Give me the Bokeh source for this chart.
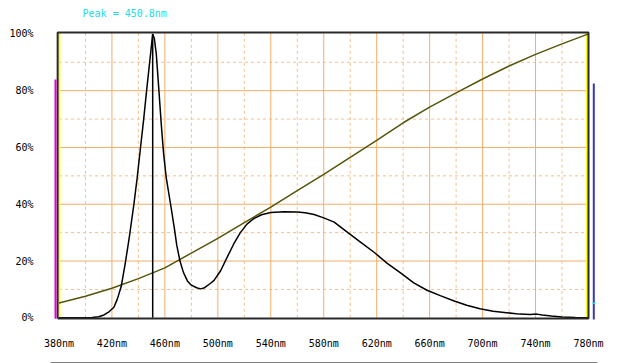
from bokeh.plotting import figure
from bokeh.models import FixedTicker, Range1d, LinearAxis
from bokeh.core.properties import value
from bokeh.embed import file_html
from bokeh.resources import INLINE

# ---- data ----
spec_nm = [380, 395, 405, 410, 414, 418, 421.5, 424, 427, 430,
           433, 436.6, 439, 441.6, 444, 446.2, 448.5, 450, 450.8, 452,
           453.5, 455.5, 457.3, 459, 461, 464.3, 467, 469, 471.4, 474,
           477, 480, 484, 487, 490, 494, 497, 502, 507, 512,
           517, 522, 527, 533, 540, 550, 560, 566, 572.7, 580,
           587.9, 598, 608, 618, 628, 638, 648, 658, 668, 678,
           688, 698, 708, 718, 728, 736, 741, 745, 752, 760,
           770, 780]
spec_pct = [0, 0, 0.1, 0.4, 1.0, 2.2, 3.7, 6.5, 11, 19,
            28, 40, 49, 60, 70, 80, 90, 96.5, 100, 98.5,
            93, 80, 68, 58, 49.5, 40, 32, 25.5, 20, 16,
            13, 11.5, 10.6, 10.2, 10.6, 12, 13.1, 16.5, 21.3, 26,
            30, 33, 34.9, 36.3, 37.1, 37.4, 37.3, 37, 36.4, 35.2,
            33.7, 30.1, 26.6, 23.1, 19.2, 15.8, 12.3, 9.7, 7.8, 6,
            4.4, 3.2, 2.3, 1.8, 1.3, 1.2, 1.3, 1.0, 0.6, 0.3,
            0.1, 0]
curve2_nm = [380, 400, 420, 440, 460, 480, 500, 520, 540, 560, 580,
             600, 620, 640, 660, 680, 700, 720, 740, 760, 780]
curve2_pct = [5.2, 7.6, 10.4, 13.8, 17.6, 22.8, 28, 33.5, 39, 44.8, 50.5,
              56.5, 62.5, 68.7, 74.2, 79.2, 84.1, 88.7, 92.8, 96.5, 100]
peak_nm = 450.8
peak_pct = 100
x_ticks = [380, 420, 460, 500, 540, 580, 620, 660, 700, 740, 780]
x_tick_labels = ["380nm", "420nm", "460nm", "500nm", "540nm", "580nm",
                 "620nm", "660nm", "700nm", "740nm", "780nm"]
y_ticks = [0, 20, 40, 60, 80, 100]
y_tick_labels = ["0%", "20%", "40%", "60%", "80%", "100%"]
grid_major_x = [420, 460, 500, 540, 580, 620, 660, 700, 740]
grid_minor_x = [400, 440, 480, 520, 560, 600, 640, 680, 720, 760]
grid_major_y = [20, 40, 60, 80]
grid_minor_y = [10, 30, 50, 70, 90]
title_text = ["Peak = 450.8nm"]

# ---- figure ----
p = figure(width=617, height=363,
           x_range=Range1d(373.6, 786.8), y_range=Range1d(-1.65, 110.0),
           output_backend="svg", toolbar_location=None,
           min_border_left=50, min_border_right=20,
           min_border_top=5, min_border_bottom=41)
p.xgrid.visible = False
p.ygrid.visible = False
p.outline_line_color = None
p.background_fill_color = "white"
p.border_fill_color = "white"

FONT = "DejaVu Sans Mono"
for ax in (p.xaxis, p.yaxis):
    ax.axis_line_color = None
    ax.major_tick_line_color = None
    ax.minor_tick_line_color = None
    ax.major_label_text_font = FONT
    ax.major_label_text_font_size = "10px"
    ax.major_label_text_color = "#000000"
p.xaxis.ticker = FixedTicker(ticks=x_ticks)
p.xaxis.major_label_overrides = dict(zip(x_ticks, x_tick_labels))
p.xaxis.major_label_standoff = 9
p.xaxis.axis_label = " "
p.xaxis.axis_label_standoff = 0
p.xaxis.axis_label_text_font_size = "8px"
p.yaxis.ticker = FixedTicker(ticks=y_ticks)
p.yaxis.major_label_standoff = 11
p.yaxis.major_label_overrides = dict(zip(y_ticks, y_tick_labels))

# bottom rule (empty axis used only for its line)
rule = LinearAxis(ticker=FixedTicker(ticks=[]), axis_line_color="#000000", axis_line_width=2,
                  major_tick_line_color=None, minor_tick_line_color=None,
                  major_label_text_font_size="0px")
p.add_layout(rule, "below")

x_lo, x_hi = x_ticks[0], x_ticks[-1]
y_top = 100.46

# grid lines
p.segment(x0=grid_minor_x, x1=grid_minor_x, y0=[0] * len(grid_minor_x), y1=[y_top] * len(grid_minor_x),
          line_color="#f3c08c", line_width=1, line_dash="3 3")
p.segment(x0=[x_lo] * len(grid_minor_y), x1=[x_hi] * len(grid_minor_y), y0=grid_minor_y, y1=grid_minor_y,
          line_color="#f3c08c", line_width=1, line_dash="3 3")
p.segment(x0=grid_major_x, x1=grid_major_x, y0=[0] * len(grid_major_x), y1=[y_top] * len(grid_major_x),
          line_color="#f2ae6a", line_width=1)
p.segment(x0=[x_lo] * len(grid_major_y), x1=[x_hi] * len(grid_major_y), y0=grid_major_y, y1=grid_major_y,
          line_color="#f2ae6a", line_width=1)

# yellow inner edges
p.segment(x0=[x_lo + 0.3, x_hi - 1.1], x1=[x_lo + 0.3, x_hi - 1.1], y0=[0, 0], y1=[y_top, y_top],
          line_color="#ffff00", line_width=2)

# curves
p.line(curve2_nm, curve2_pct, line_color="#55550a", line_width=1.5)
p.line(spec_nm, spec_pct, line_color="#000000", line_width=1.5)
p.segment(x0=[peak_nm], x1=[peak_nm], y0=[0], y1=[peak_pct], line_color="#000000", line_width=1.5)

# border box
p.line([x_lo - 1.0, x_hi, x_hi, x_lo - 1.0, x_lo - 1.0], [-0.2, -0.2, y_top, y_top, -0.2],
       line_color="#2a2a2a", line_width=2)

# side markers
p.segment(x0=[x_lo - 2.6], x1=[x_lo - 2.6], y0=[-0.3], y1=[83.9], line_color="#e000e0", line_width=2)
p.segment(x0=[x_hi + 4.0], x1=[x_hi + 4.0], y0=[-0.6], y1=[82.5], line_color="#3a3ab0", line_width=2)
p.segment(x0=[x_hi + 3.0], x1=[x_hi + 5.2], y0=[5.1], y1=[5.1], line_color="#20e0f0", line_width=1.5)

# title text
p.text(x=[397.8], y=[107.1], text=title_text, text_font=value(FONT), text_font_size="10px",
       text_color="#22dde4", text_baseline="middle", text_align="left")

open("out.html", "w").write(file_html(p, INLINE))
